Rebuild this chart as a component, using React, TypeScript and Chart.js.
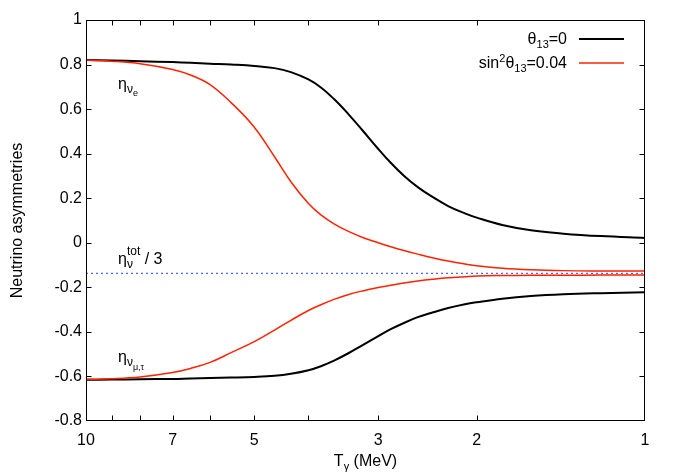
import React, { useEffect, useRef } from 'react';
import { Chart, registerables } from 'chart.js';

Chart.register(...registerables);

// ---- data ----
const temps = [10, 9, 8, 7, 6.5, 6, 5.5, 5, 4.6, 4.3, 4, 3.8, 3.6, 3.4, 3.2, 3, 2.85, 2.7, 2.55, 2.4, 2.25, 2.1, 2, 1.8, 1.6, 1.4, 1.2, 1];
const etaNueTheta0 = [0.82, 0.818, 0.815, 0.811, 0.808, 0.804, 0.8, 0.794, 0.784, 0.766, 0.733, 0.697, 0.645, 0.58, 0.504, 0.421, 0.359, 0.301, 0.25, 0.206, 0.165, 0.132, 0.113, 0.08, 0.056, 0.041, 0.03, 0.022];
const etaNumuTheta0 = [-0.615, -0.614, -0.6125, -0.611, -0.609, -0.607, -0.605, -0.602, -0.597, -0.588, -0.572, -0.554, -0.529, -0.497, -0.459, -0.419, -0.388, -0.36, -0.334, -0.313, -0.293, -0.276, -0.267, -0.251, -0.239, -0.231, -0.226, -0.222];
const etaNueSin = [0.82, 0.815, 0.804, 0.778, 0.753, 0.71, 0.629, 0.519, 0.386, 0.274, 0.176, 0.125, 0.085, 0.052, 0.024, 0.0, -0.018, -0.035, -0.051, -0.067, -0.082, -0.095, -0.103, -0.114, -0.121, -0.125, -0.1265, -0.127];
const etaNumuSin = [-0.613, -0.61, -0.602, -0.582, -0.564, -0.537, -0.493, -0.444, -0.392, -0.348, -0.304, -0.278, -0.254, -0.233, -0.216, -0.201, -0.191, -0.181, -0.172, -0.164, -0.157, -0.152, -0.149, -0.147, -0.146, -0.1455, -0.145, -0.145];
const etaTotOver3 = -0.137;
const totTemps = [10, 1];

const xTickValues = [10, 9, 8, 7, 6, 5, 4, 3, 2, 1];
const xTickLabels = [10, 7, 5, 3, 2, 1];
const yMin = -0.8;
const yMax = 1;
const yStep = 0.2;

const FONT = '"Liberation Sans", Arial, Helvetica, sans-serif';
const RED = '#ff2200';
const BLUE = '#2244ff';

type Seg = { t: string; size: number; dy?: number };

function segWidth(ctx: CanvasRenderingContext2D, s: Seg) {
  ctx.font = `${s.size}px ${FONT}`;
  return ctx.measureText(s.t).width;
}

function drawRich(ctx: CanvasRenderingContext2D, x: number, y: number, segs: Seg[], align: 'left' | 'right' | 'center' = 'left') {
  let total = 0;
  for (const s of segs) total += segWidth(ctx, s);
  let cx = align === 'left' ? x : align === 'right' ? x - total : x - total / 2;
  ctx.textAlign = 'left';
  ctx.textBaseline = 'alphabetic';
  ctx.fillStyle = '#000';
  for (const s of segs) {
    ctx.font = `${s.size}px ${FONT}`;
    ctx.fillText(s.t, cx, y + (s.dy || 0));
    cx += ctx.measureText(s.t).width;
  }
}

const decor = {
  id: 'decor',
  afterDraw(chart: any) {
    const { ctx, chartArea: a, scales } = chart;
    const xs = scales.x;
    const ys = scales.y;
    const L = Math.round(a.left) + 0.5;
    const R = Math.round(a.right) - 0.5;
    const T = Math.round(a.top) + 0.5;
    const B = Math.round(a.bottom) - 0.5;
    ctx.save();
    ctx.strokeStyle = '#000';
    ctx.lineWidth = 1;
    ctx.strokeRect(L, T, R - L, B - T);
    const tl = 5;
    ctx.beginPath();
    for (const v of xTickValues) {
      if (v === 10 || v === 1) continue;
      const px = Math.round(xs.getPixelForValue(v)) + 0.5;
      ctx.moveTo(px, B); ctx.lineTo(px, B - tl);
      ctx.moveTo(px, T); ctx.lineTo(px, T + tl);
    }
    for (const t of ys.ticks) {
      const v = t.value;
      if (Math.abs(v - yMin) < 1e-6 || Math.abs(v - yMax) < 1e-6) continue;
      const py = Math.round(ys.getPixelForValue(v)) + 0.5;
      ctx.moveTo(L, py); ctx.lineTo(L + tl, py);
      ctx.moveTo(R, py); ctx.lineTo(R - tl, py);
    }
    ctx.stroke();

    // x-axis title
    drawRich(ctx, (a.left + a.right) / 2, 466, [
      { t: 'T', size: 16 },
      { t: 'γ', size: 11, dy: 4 },
      { t: ' (MeV)', size: 16 },
    ], 'center');

    // curve labels
    drawRich(ctx, 118, 89, [
      { t: 'η', size: 16 },
      { t: 'ν', size: 12, dy: 4 },
      { t: 'e', size: 9, dy: 7 },
    ]);
    ctx.font = `16px ${FONT}`;
    const etaW = ctx.measureText('η').width;
    drawRich(ctx, 118, 264, [{ t: 'η', size: 16 }]);
    drawRich(ctx, 118 + etaW, 264, [{ t: 'ν', size: 12, dy: 4 }]);
    drawRich(ctx, 118 + etaW, 264, [{ t: 'tot', size: 12, dy: -9 }]);
    const totW = Math.max(segWidth(ctx, { t: 'tot', size: 12 }), segWidth(ctx, { t: 'ν', size: 12 }));
    drawRich(ctx, 118 + etaW + totW, 264, [{ t: ' / 3', size: 16 }]);

    drawRich(ctx, 118, 362, [
      { t: 'η', size: 16 },
      { t: 'ν', size: 12, dy: 4 },
      { t: 'μ,τ', size: 9, dy: 8 },
    ]);

    // legend
    drawRich(ctx, 567, 44, [
      { t: 'θ', size: 16 },
      { t: '13', size: 11, dy: 4 },
      { t: '=0', size: 16 },
    ], 'right');
    drawRich(ctx, 567, 68, [
      { t: 'sin', size: 16 },
      { t: '2', size: 11, dy: -6 },
      { t: 'θ', size: 16 },
      { t: '13', size: 11, dy: 4 },
      { t: '=0.04', size: 16 },
    ], 'right');
    ctx.lineWidth = 2;
    ctx.strokeStyle = '#000';
    ctx.beginPath(); ctx.moveTo(579, 39); ctx.lineTo(624, 39); ctx.stroke();
    ctx.lineWidth = 1.5;
    ctx.strokeStyle = RED;
    ctx.beginPath(); ctx.moveTo(579, 63); ctx.lineTo(624, 63); ctx.stroke();
    ctx.restore();
  },
};

function series(xs: number[], ys: number[]) {
  return xs.map((x, i) => ({ x, y: ys[i] }));
}

export default function App() {
  const ref = useRef<HTMLCanvasElement | null>(null);
  useEffect(() => {
    document.body.style.margin = '0';
    const canvas = ref.current;
    if (!canvas) return;
    const line = (data: any, color: string, width: number, extra: any = {}) => ({
      data,
      borderColor: color,
      backgroundColor: color,
      borderWidth: width,
      pointRadius: 0,
      fill: false,
      tension: 0.4,
      ...extra,
    });
    const chart = new Chart(canvas, {
      type: 'line',
      data: {
        datasets: [
          line(series(totTemps, totTemps.map(() => etaTotOver3)), BLUE, 1, { borderDash: [2, 3], tension: 0 }),
          line(series(temps, etaNueSin), RED, 1.5),
          line(series(temps, etaNumuSin), RED, 1.5),
          line(series(temps, etaNueTheta0), '#000', 2),
          line(series(temps, etaNumuTheta0), '#000', 2),
        ],
      },
      options: {
        responsive: false,
        animation: false,
        devicePixelRatio: 1,
        layout: { padding: { top: 20, right: 29, left: 0, bottom: 0 } },
        plugins: { legend: { display: false }, tooltip: { enabled: false } },
        scales: {
          x: {
            type: 'logarithmic',
            reverse: true,
            min: 1,
            max: 10,
            afterBuildTicks: (s: any) => {
              s.ticks = xTickValues.map((v) => ({ value: v }));
            },
            afterFit: (s: any) => {
              s.height = 51;
            },
            grid: { display: false, drawTicks: false },
            border: { display: false },
            ticks: {
              autoSkip: false,
              maxRotation: 0,
              padding: 10,
              color: '#000',
              font: { family: FONT, size: 16 },
              callback: (v: any) => (xTickLabels.includes(Number(v)) ? String(v) : ''),
            },
          },
          y: {
            type: 'linear',
            min: yMin,
            max: yMax,
            afterFit: (s: any) => {
              s.width = 86;
            },
            grid: { display: false, drawTicks: false },
            border: { display: false },
            ticks: {
              stepSize: yStep,
              padding: 4,
              color: '#000',
              font: { family: FONT, size: 16 },
              callback: (v: any) => {
                const r = Math.round(Number(v) * 10) / 10;
                return r === 0 ? '0' : String(r);
              },
            },
            title: {
              display: true,
              text: 'Neutrino asymmetries',
              color: '#000',
              font: { family: FONT, size: 16 },
              padding: { top: 8, bottom: 0 },
            },
          },
        },
      },
      plugins: [decor],
    } as any);
    return () => chart.destroy();
  }, []);
  return <canvas ref={ref} width={674} height={472} style={{ display: 'block' }} />;
}
